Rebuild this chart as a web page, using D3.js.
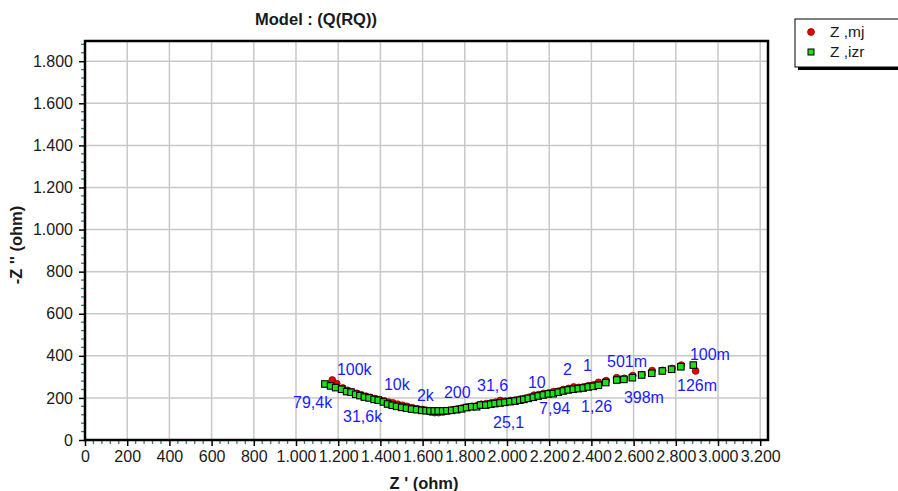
<!DOCTYPE html>
<html>
<head>
<meta charset="utf-8">
<script src="https://cdn.jsdelivr.net/npm/d3@7"></script>
<style>
  body { margin: 0; background: #fff; }
  text { font-family: "Liberation Sans", Arial, sans-serif; }
</style>
</head>
<body>
<div id="chart"></div>
<script>
// Nyquist data (ohm): measured (Z,mj) and fitted (Z,izr)
const mjRe = [1172, 1193, 1222, 1245, 1266, 1288, 1310, 1332, 1352, 1374, 1396, 1418, 1440, 1460, 1482, 1505, 1526, 1550, 1574, 1598, 1618, 1638, 1657, 1676, 1697, 1718, 1740, 1763, 1788, 1811, 1835, 1858, 1878, 1902, 1925, 1946, 1968, 1992, 2016, 2040, 2062, 2082, 2104, 2128, 2150, 2174, 2198, 2220, 2244, 2268, 2292, 2316, 2340, 2362, 2386, 2410, 2434, 2470, 2520, 2556, 2596, 2640, 2688, 2738, 2782, 2826, 2894];
const mjIm = [285, 268, 247, 236, 228, 222, 214, 208, 203, 197, 192, 186, 180, 176, 170, 165, 160, 154, 149, 145, 141, 133, 130, 130, 133, 138, 143, 147, 152, 157, 160, 163, 170, 173, 176, 180, 188, 185, 188, 190, 194, 197, 203, 213, 216, 222, 224, 230, 232, 240, 245, 252, 250, 252, 258, 262, 274, 282, 296, 293, 306, 311, 330, 331, 340, 356, 328];

const izrRe = [1137, 1164, 1188, 1216, 1240, 1261, 1283, 1303, 1324, 1346, 1370, 1390, 1414, 1434, 1456, 1477, 1501, 1524, 1548, 1572, 1596, 1616, 1635, 1655, 1674, 1695, 1715, 1738, 1761, 1785, 1809, 1833, 1856, 1875, 1900, 1923, 1943, 1967, 1990, 2014, 2038, 2061, 2080, 2101, 2125, 2148, 2172, 2196, 2219, 2243, 2267, 2290, 2314, 2338, 2361, 2385, 2409, 2433, 2468, 2520, 2554, 2594, 2638, 2686, 2736, 2780, 2824, 2883];
const izrIm = [266, 257, 249, 241, 230, 227, 217, 211, 204, 200, 193, 189, 181, 171, 165, 160, 155, 151, 147, 144, 141, 139, 138, 138, 138, 138, 139, 141, 144, 148, 154, 158, 158, 166, 166, 170, 173, 176, 179, 182, 185, 189, 193, 198, 203, 209, 214, 219, 220, 227, 233, 238, 241, 244, 247, 252, 255, 260, 273, 285, 288, 296, 309, 317, 328, 336, 348, 356];

// frequency annotations, placed in data units (left edge / baseline)
const freqText = ["100k", "79,4k", "31,6k", "10k", "2k", "200", "31,6", "25,1", "10", "7,94", "2", "1", "1,26", "501m", "398m", "100m", "126m"];
const freqRe = [1194, 986, 1223, 1417, 1573, 1701, 1858, 1934, 2099, 2152, 2265, 2360, 2351, 2474, 2554, 2867, 2806];
const freqIm = [309, 152, 86, 238, 185, 200, 233, 57, 247, 124, 309, 328, 133, 347, 176, 380, 233];

const xTicks = d3.range(0, 3201, 200);
const yTicks = d3.range(0, 1801, 200);

const svgWidth = 898;
const svgHeight = 491;
const margin = { top: 41, right: 130, bottom: 51, left: 85 };
const width = svgWidth - margin.left - margin.right;
const height = svgHeight - margin.top - margin.bottom;

const svg = d3.select("#chart")
  .append("svg")
  .attr("width", svgWidth)
  .attr("height", svgHeight);

const chartGroup = svg.append("g")
  .attr("transform", `translate(${margin.left}, ${margin.top})`);

const xScale = d3.scaleLinear().domain([0, 3237]).range([0, width]);
const yScale = d3.scaleLinear().domain([0, 1896]).range([height, 0]);

const fmt = d3.formatLocale({ decimal: ",", thousands: ".", grouping: [3], currency: ["", ""] }).format(",d");

// grid
chartGroup.append("g").selectAll("line")
  .data(xTicks.slice(1))
  .enter().append("line")
  .attr("x1", d => xScale(d)).attr("x2", d => xScale(d))
  .attr("y1", 0).attr("y2", height)
  .attr("stroke", "#c8c8c8").attr("stroke-width", 1.5);

chartGroup.append("g").selectAll("line")
  .data(yTicks.slice(1))
  .enter().append("line")
  .attr("y1", d => yScale(d)).attr("y2", d => yScale(d))
  .attr("x1", 0).attr("x2", width)
  .attr("stroke", "#c8c8c8").attr("stroke-width", 1.5);

// minor ticks (teal)
const xMinor = d3.range(0, 3237, 40).filter(d => d % 200 !== 0);
const yMinor = d3.range(0, 1896, 40).filter(d => d % 200 !== 0);
chartGroup.append("g").selectAll("line")
  .data(xMinor)
  .enter().append("line")
  .attr("x1", d => xScale(d)).attr("x2", d => xScale(d))
  .attr("y1", height + 1).attr("y2", height + 4)
  .attr("stroke", "#2f7f7f").attr("stroke-width", 1.3);
chartGroup.append("g").selectAll("line")
  .data(yMinor)
  .enter().append("line")
  .attr("y1", d => yScale(d)).attr("y2", d => yScale(d))
  .attr("x1", -4).attr("x2", -1)
  .attr("stroke", "#2f7f7f").attr("stroke-width", 1.3);

// axes
const bottomAxis = d3.axisBottom(xScale).tickValues(xTicks).tickFormat(fmt).tickSize(6).tickPadding(5);
const leftAxis = d3.axisLeft(yScale).tickValues(yTicks).tickFormat(fmt).tickSize(6).tickPadding(6);

const xAxis = chartGroup.append("g")
  .attr("transform", `translate(0, ${height})`)
  .call(bottomAxis);
const yAxis = chartGroup.append("g").call(leftAxis);

[xAxis, yAxis].forEach(a => {
  a.select(".domain").remove();
  a.selectAll(".tick line").attr("stroke", "#000").attr("stroke-width", 1.5);
  a.selectAll(".tick text")
    .attr("fill", "#1a1a1a")
    .style("font-family", "'Liberation Sans', Arial, sans-serif")
    .style("font-size", "16px");
});

// frame
chartGroup.append("rect")
  .attr("x", 0).attr("y", 0)
  .attr("width", width).attr("height", height)
  .attr("fill", "none")
  .attr("stroke", "#000")
  .attr("stroke-width", 2.5);

// measured points
chartGroup.append("g").selectAll("circle")
  .data(mjRe.map((d, i) => [d, mjIm[i]]))
  .enter().append("circle")
  .attr("cx", d => xScale(d[0]))
  .attr("cy", d => yScale(d[1]))
  .attr("r", 3.4)
  .attr("fill", "#e80000")
  .attr("stroke", "#8a0000")
  .attr("stroke-width", 0.8);

// fitted points
const sq = 6.5;
chartGroup.append("g").selectAll("rect")
  .data(izrRe.map((d, i) => [d, izrIm[i]]))
  .enter().append("rect")
  .attr("x", d => xScale(d[0]) - sq / 2)
  .attr("y", d => yScale(d[1]) - sq / 2)
  .attr("width", sq).attr("height", sq)
  .attr("fill", "#1ee01e")
  .attr("stroke", "#000")
  .attr("stroke-width", 1.1);

// frequency labels
chartGroup.append("g").selectAll("text")
  .data(freqText)
  .enter().append("text")
  .attr("x", (d, i) => xScale(freqRe[i]))
  .attr("y", (d, i) => yScale(freqIm[i]))
  .attr("fill", "#1a1aff")
  .style("font-size", "16px")
  .text(d => d);

// title and axis labels
svg.append("text")
  .attr("x", 316).attr("y", 25)
  .attr("text-anchor", "middle")
  .style("font-size", "16.5px").style("font-weight", "bold")
  .attr("fill", "#1a1a1a")
  .text("Model : (Q(RQ))");

svg.append("text")
  .attr("x", 424).attr("y", 489)
  .attr("text-anchor", "middle")
  .style("font-size", "16.5px").style("font-weight", "bold")
  .attr("fill", "#1a1a1a")
  .text("Z '  (ohm)");

svg.append("text")
  .attr("transform", "translate(22, 245) rotate(-90)")
  .attr("text-anchor", "middle")
  .style("font-size", "16.5px").style("font-weight", "bold")
  .attr("fill", "#1a1a1a")
  .text("-Z ''  (ohm)");

// legend
const legend = svg.append("g").attr("transform", "translate(795, 19)");
legend.append("rect")
  .attr("x", 3).attr("y", 3).attr("width", 120).attr("height", 48)
  .attr("fill", "#000");
legend.append("rect")
  .attr("x", 0).attr("y", 0).attr("width", 120).attr("height", 48)
  .attr("fill", "#fff").attr("stroke", "#000").attr("stroke-width", 1);
legend.append("circle")
  .attr("cx", 16).attr("cy", 13).attr("r", 3.4)
  .attr("fill", "#e80000").attr("stroke", "#8a0000").attr("stroke-width", 0.8);
legend.append("rect")
  .attr("x", 13).attr("y", 30).attr("width", 6).attr("height", 6)
  .attr("fill", "#1ee01e").attr("stroke", "#000").attr("stroke-width", 1);
legend.append("text")
  .attr("x", 35).attr("y", 18)
  .style("font-size", "15.5px").attr("fill", "#1a1a1a")
  .text("Z ,mj");
legend.append("text")
  .attr("x", 35).attr("y", 38)
  .style("font-size", "15.5px").attr("fill", "#1a1a1a")
  .text("Z ,izr");
</script>
</body>
</html>
